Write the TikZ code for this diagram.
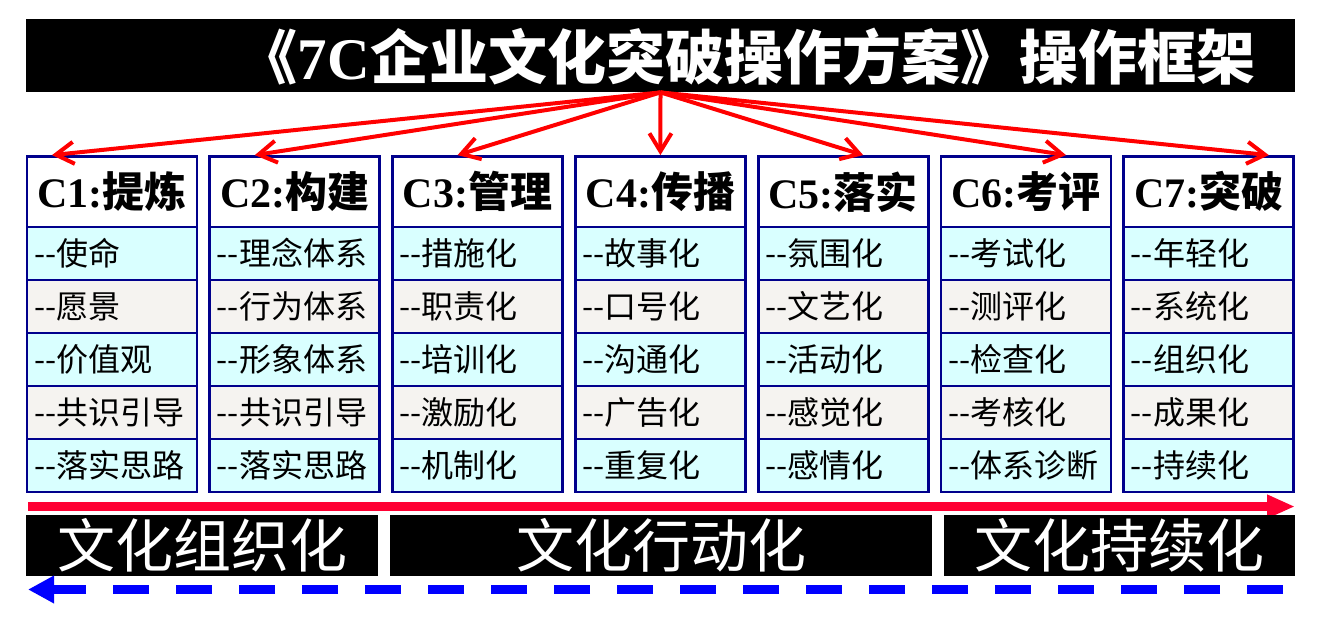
\documentclass[tikz,border=0pt]{standalone}
\usepackage{fontspec}
\setmainfont{Liberation Serif}
\newfontfamily\cjk{Noto Sans CJK SC}
\usetikzlibrary{arrows.meta}
\definecolor{navy}{RGB}{0,0,140}
\definecolor{cyanbg}{RGB}{217,255,255}
\definecolor{greybg}{RGB}{245,243,240}
\definecolor{barred}{RGB}{255,0,51}

\begin{document}
\begin{tikzpicture}[x=0.5pt, y=-0.5pt,
    blackbar/.style={fill=black, text=white, inner sep=0pt, minimum height=30.5pt,
      font=\fontsize{29pt}{32pt}\selectfont\cjk},
    head/.style={draw=navy, line width=1.4pt, fill=white, inner sep=0pt,
      minimum width=85pt, minimum height=35.25pt, font=\fontsize{21pt}{24pt}\selectfont\bfseries},
    cell/.style={draw=navy, line width=1.4pt, inner xsep=3.5pt, inner ysep=0pt,
      text width=78pt, align=left, minimum height=26.5pt,
      font=\fontsize{16pt}{18pt}\selectfont\cjk},
    fan/.style={draw=red, line width=2pt, -{Straight Barb[length=9pt,width=11pt]}},
    flow/.style={draw=barred, line width=4.5pt, -{Triangle[length=14pt,width=11pt]}},
    back/.style={draw=blue, line width=4.5pt, dash pattern=on 18pt off 13.5pt,
      -{Triangle[length=13pt,width=13pt]}}
  ]
  \useasboundingbox (0,0) rectangle (1322,617);
  % title
  \node[fill=black, minimum width=634.5pt, minimum height=36.5pt, inner sep=0pt] (bar) at (660.5,55.5) {};
  \node[text=white, inner sep=0pt, font=\fontsize{29.5pt}{32pt}\selectfont\bfseries] (ttl) at (747,57)
    {{\cjk 《}7C{\cjk 企业文化突破操作方案》操作框架}};
  % seven columns
  \foreach \i/\hd/\ra/\rb/\rc/\rd/\re in {
      1/提炼/使命/愿景/价值观/共识引导/落实思路,
      2/构建/理念体系/行为体系/形象体系/共识引导/落实思路,
      3/管理/措施化/职责化/培训化/激励化/机制化,
      4/传播/故事化/口号化/沟通化/广告化/重复化,
      5/落实/氛围化/文艺化/活动化/感觉化/感情化,
      6/考评/考试化/测评化/检查化/考核化/体系诊断,
      7/突破/年轻化/系统化/组织化/成果化/持续化} {
    \pgfmathsetmacro\cx{112+182.8*(\i-1)}
    \node[head] (c\i) at (\cx,191.75) {C\i:{\cjk\hd}};
    \foreach \j/\t/\f in {1/\ra/cyanbg, 2/\rb/greybg, 3/\rc/cyanbg, 4/\rd/greybg, 5/\re/cyanbg} {
      \node[cell, fill=\f] (c\i r\j) at (\cx,227+53*\j-26.5) {--\t};
    }
    \draw[fan] (bar.south) -- ([xshift=-40pt+10pt*\i]c\i.north);
  }
  % phases
  \coordinate (fs) at (28,506.5);
  \coordinate (fe) at (1295,506.5);
  \draw[flow] (fs) -- (fe);
  \node[blackbar, minimum width=176pt] (org) at (202,545.5) {文化组织化};
  \node[blackbar, minimum width=271pt] (act) at (661,545.5) {文化行动化};
  \node[blackbar, minimum width=175.5pt] (sus) at (1119.5,545.5) {文化持续化};
  \coordinate (bs) at (1283,589.5);
  \coordinate (be) at (28,589.5);
  \draw[back] (bs) -- (be);
\end{tikzpicture}
\end{document}
